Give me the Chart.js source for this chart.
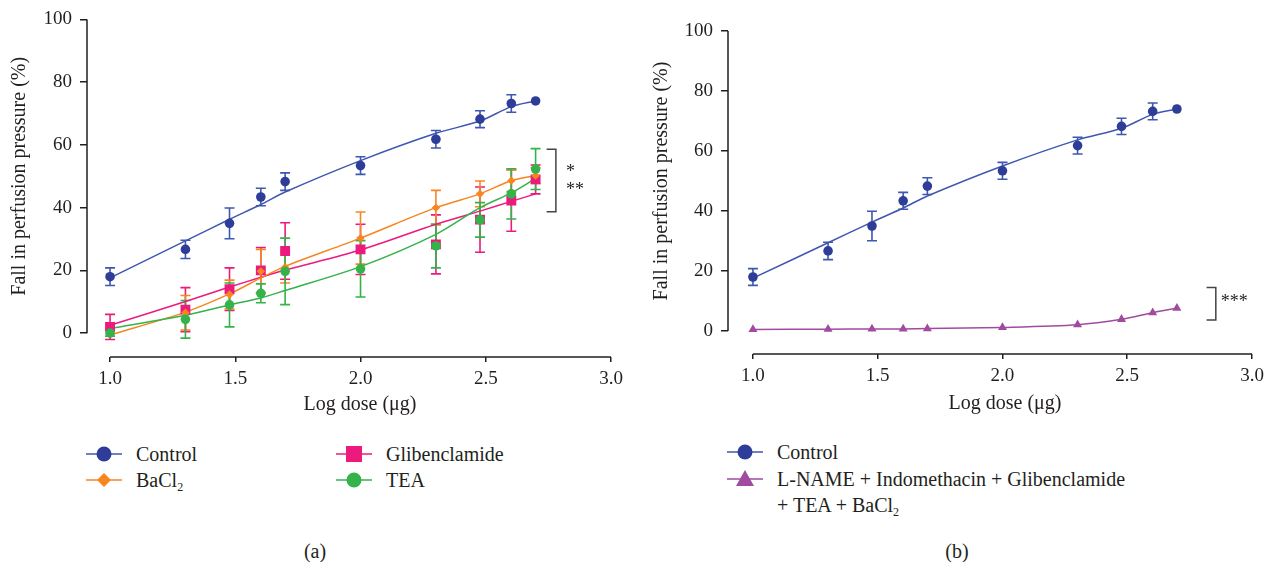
<!DOCTYPE html>
<html>
<head>
<meta charset="utf-8">
<script src="https://cdn.jsdelivr.net/npm/chart.js@4.4.0/dist/chart.umd.min.js"></script>
<style>
  body { margin: 0; background: #fff; font-family: "Liberation Serif", "DejaVu Serif", serif; color: #231f20; }
  #wrap { position: relative; width: 1274px; height: 562px; overflow: hidden; }
  canvas { position: absolute; top: 0; }
  .item { position: absolute; height: 26px; line-height: 26px; font-size: 20px; white-space: nowrap; }
  .item svg { position: absolute; top: 0; }
  .item span { position: absolute; top: 0; left: 50px; }
  sub { font-size: 12px; vertical-align: -4px; line-height: 0; }
  .cap { position: absolute; font-size: 20px; transform: translate(-50%, -50%); }
</style>
</head>
<body>
<div id="wrap">
  <canvas id="chartA" width="637" height="430" style="left:0"></canvas>
  <canvas id="chartB" width="637" height="430" style="left:637px"></canvas>
  <div class="cap" style="left:315px; top:551px">(a)</div>
  <div class="cap" style="left:957px; top:551px">(b)</div>
</div>
<script>
// log dose (µg) for 10, 20, 30, 40, 50, 100, 200, 300, 400, 500 µg
const logDose = [1.0, 1.301, 1.477, 1.602, 1.699, 2.0, 2.301, 2.477, 2.602, 2.699];
const xTicks = [1.0, 1.5, 2.0, 2.5, 3.0];
const yTicks = [0, 20, 40, 60, 80, 100];

// mean fall in perfusion pressure (%), SEM and fitted curve
const controlMean = [18.0, 26.7, 35.0, 43.4, 48.3, 53.4, 61.8, 68.2, 73.2, 74.0];
const controlSem  = [2.8, 2.9, 4.9, 2.8, 2.8, 2.8, 2.8, 2.7, 2.8, 0];
const controlFit  = [17.6, 29.4, 36.3, 41.0, 45.0, 55.0, 63.7, 67.6, 72.2, 74.0];

const bacl2Mean = [0.0, 6.5, 12.3, 19.7, 21.0, 30.3, 40.0, 44.4, 48.6, 50.2];
const bacl2Sem  = [1.0, 5.5, 4.6, 7.0, 5.0, 8.3, 5.5, 4.1, 3.5, 2.5];
const bacl2Fit  = [-0.6, 6.7, 12.5, 17.6, 21.3, 30.3, 40.0, 44.4, 48.6, 50.2];

const glibMean = [2.0, 7.5, 14.0, 20.0, 26.2, 26.7, 28.3, 36.2, 42.3, 49.0];
const glibSem  = [4.0, 7.0, 6.8, 7.3, 9.0, 8.0, 9.4, 10.4, 9.8, 4.6];
const glibFit  = [2.5, 10.1, 14.7, 17.8, 20.1, 26.5, 34.7, 38.9, 42.0, 44.4];

const teaMean = [0.0, 4.4, 9.0, 12.7, 19.7, 20.5, 27.8, 36.1, 44.4, 52.3];
const teaSem  = [1.0, 6.0, 7.0, 3.0, 10.6, 9.0, 7.0, 5.5, 8.0, 6.5];
const teaFit  = [1.5, 5.7, 9.0, 11.2, 13.6, 21.2, 31.5, 40.0, 44.7, 49.3];

// L-NAME + indomethacin + glibenclamide + TEA + BaCl2
const comboMean = [0.5, 0.6, 0.7, 0.7, 0.8, 1.2, 2.1, 3.9, 6.1, 7.6];

const BLUE = "#2e3d98", BLUE_LINE = "#3f57b0";
const ORANGE = "#f7861f", PINK = "#ec1a7d", GREEN = "#33b34a", PURPLE = "#a04ba0";
const INK = "#231f20";

const pts = vals => logDose.map((d, i) => ({ x: d, y: vals[i] }));

function fitLine(vals, color, order) {
  return { data: pts(vals), borderColor: color, borderWidth: 1.5, pointRadius: 0,
           tension: 0.3, fill: false, order: order };
}
function markers(vals, sem, color, errColor, style, r, order) {
  return { data: pts(vals), showLine: false, pointStyle: style, pointRadius: r,
           pointHoverRadius: r, backgroundColor: color, borderColor: color, borderWidth: 0,
           errors: sem, errorColor: errColor, order: order };
}

// SEM bars, drawn under the markers
const errorBars = {
  id: "errorBars",
  beforeDatasetsDraw(chart) {
    const ctx = chart.ctx, xs = chart.scales.x, ys = chart.scales.y;
    chart.data.datasets.slice().reverse().forEach(ds => {
      if (!ds.errors) return;
      ctx.save();
      ctx.strokeStyle = ds.errorColor;
      ctx.lineWidth = 1.6;
      ds.data.forEach((p, j) => {
        const e = ds.errors[j];
        if (!e) return;
        const px = xs.getPixelForValue(p.x);
        const top = ys.getPixelForValue(p.y + e), bot = ys.getPixelForValue(p.y - e);
        ctx.beginPath();
        ctx.moveTo(px, top); ctx.lineTo(px, bot);
        ctx.moveTo(px - 5, top); ctx.lineTo(px + 5, top);
        ctx.moveTo(px - 5, bot); ctx.lineTo(px + 5, bot);
        ctx.stroke();
      });
      ctx.restore();
    });
  }
};

// detached axis lines, axis titles and the significance bracket
const frame = {
  id: "frame",
  afterDraw(chart, args, opts) {
    const ctx = chart.ctx, xs = chart.scales.x, ys = chart.scales.y, a = chart.chartArea;
    ctx.save();
    ctx.strokeStyle = INK;
    ctx.lineWidth = 1.5;
    ctx.beginPath();
    ctx.moveTo(a.left, ys.getPixelForValue(100));
    ctx.lineTo(a.left, ys.getPixelForValue(0));
    ctx.moveTo(xs.getPixelForValue(1.0), a.bottom);
    ctx.lineTo(xs.getPixelForValue(3.0), a.bottom);
    ctx.stroke();

    ctx.fillStyle = INK;
    ctx.font = '20px "Liberation Serif"';
    ctx.textAlign = "center";
    ctx.textBaseline = "middle";
    ctx.fillText("Log dose (\u03bcg)", opts.xTitleX, opts.xTitleY);
    ctx.save();
    ctx.translate(opts.yTitleX, ys.getPixelForValue(50));
    ctx.rotate(-Math.PI / 2);
    ctx.fillText("Fall in perfusion pressure (%)", 0, 0);
    ctx.restore();

    const b = opts.bracket;
    const x0 = xs.getPixelForValue(b.x0), x1 = xs.getPixelForValue(b.x1);
    const y0 = ys.getPixelForValue(b.top), y1 = ys.getPixelForValue(b.bottom);
    ctx.strokeStyle = "#444";
    ctx.beginPath();
    ctx.moveTo(x0, y0); ctx.lineTo(x1, y0); ctx.lineTo(x1, y1); ctx.lineTo(x0, y1);
    ctx.stroke();
    ctx.font = '18px "Liberation Serif"';
    ctx.textAlign = "left";
    b.stars.forEach(s => {
      ctx.fillText(s.text, xs.getPixelForValue(s.x), ys.getPixelForValue(s.y) + 4);
    });
    ctx.restore();
  }
};

function makeOptions(box, frameOpts) {
  const tickFont = { family: "Liberation Serif", size: 19 };
  return {
    responsive: false,
    animation: false,
    layout: { padding: { left: 0, top: box.top, right: box.right, bottom: 0 } },
    plugins: { legend: { display: false }, tooltip: { enabled: false }, frame: frameOpts },
    scales: {
      x: {
        type: "linear", min: box.xMin, max: 3.0,
        afterBuildTicks: s => { s.ticks = xTicks.map(v => ({ value: v })); },
        afterFit: s => { s.height = box.xHeight; },
        ticks: { font: tickFont, color: INK, padding: 6, maxRotation: 0,
                 callback: v => v.toFixed(1) },
        grid: { drawOnChartArea: false, color: INK, lineWidth: 1.5, tickLength: 5 },
        border: { display: false }
      },
      y: {
        min: box.yMin, max: 100,
        afterBuildTicks: s => { s.ticks = yTicks.map(v => ({ value: v })); },
        afterFit: s => { s.width = box.yWidth; },
        ticks: { font: tickFont, color: INK, padding: 8 },
        grid: { drawOnChartArea: false, color: INK, lineWidth: 1.5, tickLength: 7 },
        border: { display: false }
      }
    }
  };
}

new Chart(document.getElementById("chartA"), {
  type: "line",
  data: {
    datasets: [
      markers(teaMean, teaSem, GREEN, GREEN, "circle", 4.8, 1),
      markers(bacl2Mean, bacl2Sem, ORANGE, ORANGE, "rectRot", 4.2, 2),
      markers(glibMean, glibSem, PINK, PINK, "rect", 7, 3),
      markers(controlMean, controlSem, BLUE, BLUE_LINE, "circle", 4.8, 4),
      fitLine(teaFit, GREEN, 5),
      fitLine(bacl2Fit, ORANGE, 6),
      fitLine(glibFit, PINK, 7),
      fitLine(controlFit, BLUE_LINE, 8)
    ]
  },
  options: makeOptions(
    { top: 17, right: 26, xMin: 0.908, yMin: -7.6, xHeight: 73, yWidth: 87 },
    { xTitleX: 360, xTitleY: 405, yTitleX: 20,
      bracket: { x0: 2.743, x1: 2.78, top: 58.6, bottom: 38.7,
                 stars: [{ text: "*", x: 2.82, y: 52.5 }, { text: "**", x: 2.82, y: 46.8 }] } }
  ),
  plugins: [errorBars, frame]
});

new Chart(document.getElementById("chartB"), {
  type: "line",
  data: {
    datasets: [
      markers(controlMean, controlSem, BLUE, BLUE_LINE, "circle", 4.8, 1),
      markers(comboMean, comboMean.map(() => 0), PURPLE, PURPLE, "triangle", 5.2, 2),
      fitLine(comboMean, PURPLE, 3),
      fitLine(controlFit, BLUE_LINE, 4)
    ]
  },
  options: makeOptions(
    { top: 31, right: 22, xMin: 0.9, yMin: -7.67, xHeight: 76, yWidth: 91 },
    { xTitleX: 368, xTitleY: 404, yTitleX: 25,
      bracket: { x0: 2.818, x1: 2.855, top: 14.5, bottom: 3.7,
                 stars: [{ text: "***", x: 2.875, y: 10.8 }] } }
  ),
  plugins: [errorBars, frame]
});

// legends below each panel
const legendItems = [
  { label: "Control", color: BLUE, line: BLUE_LINE, shape: "circle", x: 86, y: 454 },
  { label: "BaCl<sub>2</sub>", color: ORANGE, line: ORANGE, shape: "diamond", x: 86, y: 480 },
  { label: "Glibenclamide", color: PINK, line: PINK, shape: "square", x: 336, y: 454 },
  { label: "TEA", color: GREEN, line: GREEN, shape: "circle", x: 336, y: 480 },
  { label: "Control", color: BLUE, line: BLUE_LINE, shape: "circle", x: 727, y: 452 },
  { label: "L-NAME + Indomethacin + Glibenclamide", color: PURPLE, line: PURPLE, shape: "triangle", x: 727, y: 479 },
  { label: "+ TEA + BaCl<sub>2</sub>", x: 727, y: 505 }
];

function markerSvg(it) {
  if (!it.shape) return "";
  let m;
  if (it.shape === "circle") m = `<circle cx="18" cy="13" r="7.5" fill="${it.color}"/>`;
  else if (it.shape === "square") m = `<rect x="10" y="5" width="16" height="16" fill="${it.color}"/>`;
  else if (it.shape === "diamond") m = `<polygon points="18,6 25,13 18,20 11,13" fill="${it.color}"/>`;
  else m = `<polygon points="18,4 27,20 9,20" fill="${it.color}"/>`;
  return `<svg width="36" height="26"><line x1="0" y1="13" x2="36" y2="13" stroke="${it.line}" stroke-width="1.5"/>${m}</svg>`;
}

const wrap = document.getElementById("wrap");
legendItems.forEach(it => {
  const div = document.createElement("div");
  div.className = "item";
  div.style.left = it.x + "px";
  div.style.top = (it.y - 13) + "px";
  div.innerHTML = markerSvg(it) + `<span>${it.label}</span>`;
  wrap.appendChild(div);
});
</script>
</body>
</html>
